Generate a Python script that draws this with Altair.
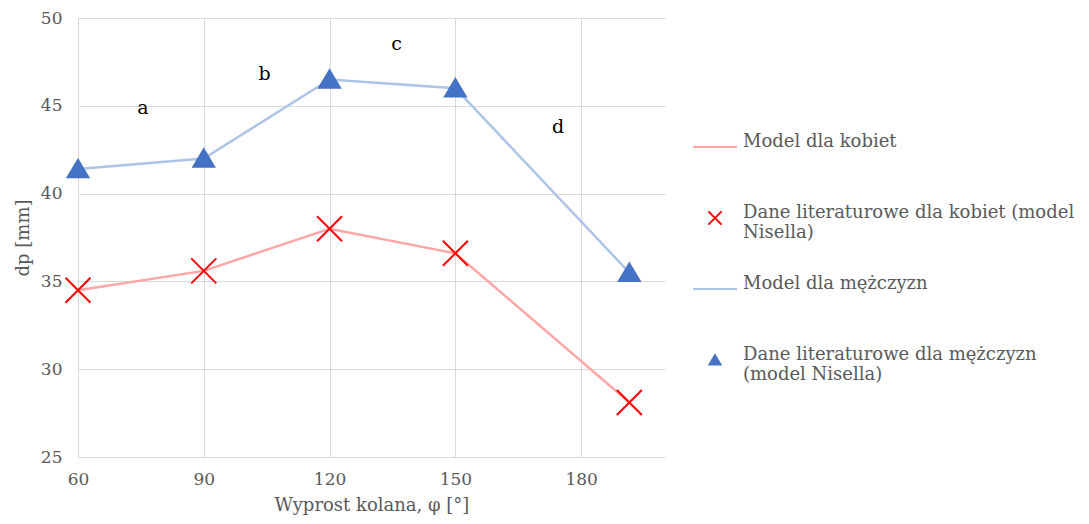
import altair as alt
import pandas as pd

# ---- data ----
angles = [60, 90, 120, 150, 191.5]
kobiety = [34.5, 35.6, 38.0, 36.6, 28.1]
mezczyzni = [41.4, 42.0, 46.5, 46.0, 35.5]

series = [
    "Model dla kobiet",
    "Dane literaturowe dla kobiet (model Nisella)",
    "Model dla mężczyzn",
    "Dane literaturowe dla mężczyzn (model Nisella)",
]
stroke_colors = ["#ffa6a6", "#ff0000", "#aec3e8", "#4472c4"]
fill_colors = ["transparent", "transparent", "transparent", "#4472c4"]
shapes = [
    "M-1,0L1,0",
    "M-0.3,-0.3L0.3,0.3M-0.3,0.3L0.3,-0.3",
    "M-1,0L1,0",
    "M0,-0.22L0.25,0.2L-0.25,0.2Z",
]

ann_text = ["a", "b", "c", "d"]
ann_x = [75.5, 104.5, 136.0, 174.5]
ann_y = [44.9, 46.8, 48.5, 43.8]

x_ticks = [60, 90, 120, 150, 180]
y_ticks = [25, 30, 35, 40, 45, 50]

# ---- tables ----
lines = pd.DataFrame(
    {"x": angles, "y": kobiety, "g": "k", "c": stroke_colors[0]}
)
lines = pd.concat(
    [lines, pd.DataFrame({"x": angles, "y": mezczyzni, "g": "m", "c": stroke_colors[2]})]
)
points = pd.concat(
    [
        pd.DataFrame({"x": angles, "y": kobiety, "series": series[1]}),
        pd.DataFrame({"x": angles, "y": mezczyzni, "series": series[3]}),
    ]
)
ann = pd.DataFrame({"x": ann_x, "y": ann_y, "t": ann_text})

FONT = "DejaVu Serif"

xenc = alt.X(
    "x:Q",
    scale=alt.Scale(domain=[60, 200], nice=False),
    axis=alt.Axis(
        values=x_ticks, title="Wyprost kolana, φ [°]", grid=True, ticks=False,
        domain=False, labelPadding=14, titlePadding=9, labelFlush=False,
    ),
)
yenc = alt.Y(
    "y:Q",
    scale=alt.Scale(domain=[25, 50], nice=False),
    axis=alt.Axis(
        values=y_ticks, title="dp [mm]", grid=True, ticks=False, domain=False,
        labelPadding=16, titlePadding=8, labelFlush=False,
    ),
)

label_expr = (
    "datum.label == '" + series[1] + "' ? ['Dane literaturowe dla kobiet (model', 'Nisella)'] : "
    "datum.label == '" + series[3] + "' ? ['Dane literaturowe dla mężczyzn', '(model Nisella)'] : [datum.label, ' ']"
)
leg = alt.Legend(
    title=None, orient="none", legendX=614, legendY=106,
    symbolSize=1936, symbolStrokeWidth=2, labelOffset=5,
    labelFont=FONT, labelFontSize=18, labelColor="#595959", labelLimit=500,
    rowPadding=24, labelExpr=label_expr, padding=0, labelBaseline="alphabetic",
)

line_layer = alt.Chart(lines).mark_line(strokeWidth=2.5).encode(
    x=xenc, y=yenc, detail="g:N", stroke=alt.Stroke("c:N", scale=None)
)

point_layer = alt.Chart(points).mark_point(size=6950, strokeWidth=2, opacity=1).encode(
    x=xenc,
    y=yenc,
    fill=alt.Fill("series:N", scale=alt.Scale(domain=series, range=fill_colors), legend=leg),
    stroke=alt.Stroke("series:N", scale=alt.Scale(domain=series, range=stroke_colors), legend=leg),
    shape=alt.Shape("series:N", scale=alt.Scale(domain=series, range=shapes), legend=leg),
)

text_layer = alt.Chart(ann).mark_text(font=FONT, fontSize=19, color="#000000").encode(
    x=xenc, y=yenc, text="t:N"
)

chart = (
    alt.layer(line_layer, point_layer, text_layer)
    .properties(
        width=587, height=439,
        autosize=alt.AutoSizeParams(type="none"),
        padding={"left": 78, "top": 18, "right": 424, "bottom": 67},
        background="white",
    )
    .configure_view(stroke=None)
    .configure_axis(
        labelFont=FONT, titleFont=FONT, labelFontSize=17, titleFontSize=18,
        labelColor="#595959", titleColor="#595959", titleFontWeight="normal",
        gridColor="#d9d9d9", gridWidth=1,
    )
)

chart.save("out.html", embed_options={"renderer": "svg", "actions": False})
